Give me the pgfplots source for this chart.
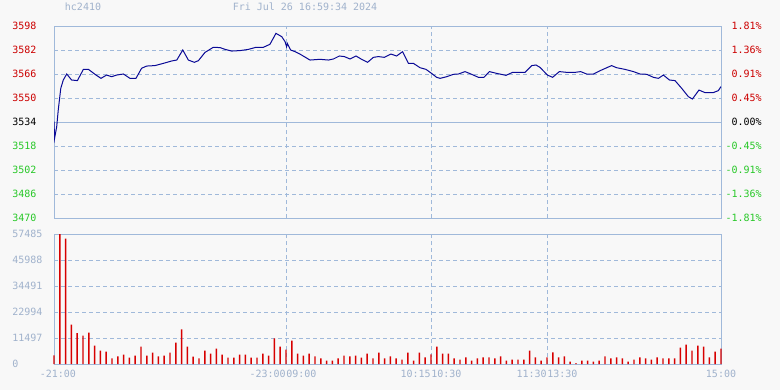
\documentclass[border=0pt]{standalone}
\usepackage{pgfplots}
\pgfplotsset{compat=1.18}
\usepackage{pgfplotstable}
\usepackage{fontspec}
\setmainfont{DejaVu Sans Mono}
\definecolor{bgc}{RGB}{248,248,248}
\definecolor{frame}{RGB}{160,185,218}
\definecolor{pline}{RGB}{10,10,150}
\definecolor{barred}{RGB}{215,0,0}
\definecolor{lblred}{RGB}{204,0,0}
\definecolor{lblgreen}{RGB}{40,200,40}
\definecolor{lblgray}{RGB}{160,178,204}

\pgfplotstableread{
t p
0.0 3534.2
0.3 3523.1
1.4 3530.9
2.2 3542
3.5 3556.4
4.8 3562
6.6 3566
9.1 3562
12.1 3561.6
15.2 3569.1
17.8 3569.1
21.2 3565.8
24.3 3563.1
27.2 3565.3
29.8 3564.2
32.4 3565.3
35.9 3566
39.3 3563.1
42.4 3563.1
45.3 3569.8
47.9 3571.3
52.2 3571.6
56.6 3573.1
60.9 3574.7
63.5 3575.3
66.6 3582
69.5 3575.3
72.6 3573.8
74.7 3574.9
78.1 3580.4
82.4 3583.8
85.9 3583.6
88.5 3582.4
91.9 3581.3
96.2 3581.6
100.5 3582.4
104.5 3583.8
108.3 3583.8
111.7 3585.8
114.8 3593.1
117.8 3590.9
119.5 3587.6
120.3 3584.2
120.7 3586.4
122.4 3582
124.7 3580.9
127.2 3579.3
132.4 3575.3
137.6 3575.8
141.9 3575.3
144.5 3576
147.6 3578
150.2 3577.6
153.1 3576
156.2 3578
159.1 3575.8
162.2 3573.8
165.2 3577.1
167.8 3577.6
170.9 3577.1
174.3 3579.3
177.2 3578
180.3 3580.9
183.3 3573.1
185.9 3573.1
189.3 3570.2
192.4 3569.1
195.3 3566.4
197.9 3563.8
199.7 3563.1
203.1 3564.2
206.6 3565.8
209.2 3566
212.6 3567.6
216.0 3565.8
219.5 3563.8
222.4 3563.8
225.2 3567.6
229.0 3566.4
233.8 3565.1
237.2 3567.1
243.6 3567.1
247.1 3571.6
249.3 3572
251.4 3570.4
255.2 3565.3
257.9 3563.8
261.4 3567.6
265.2 3567.1
269.5 3567.1
272.4 3567.6
275.5 3566
279.0 3566
283.3 3568.7
288.4 3571.6
291.0 3570.2
295.3 3569.1
299.7 3567.6
303.1 3566
306.6 3565.8
310.0 3563.8
312.6 3563.1
315.2 3565.3
318.3 3562
321.2 3561.6
324.7 3556.4
328.1 3550.9
330.2 3549.3
333.6 3555.3
336.7 3553.6
341.0 3553.6
343.6 3554.9
345.0 3557.6
}\pricedata

\pgfplotstableread{
t v
0 3830
3 57485
6 55400
9 17400
12 13700
15 12500
18 13850
21 8100
24 5900
27 5450
30 2500
33 3400
36 4100
39 2800
42 3700
45 7650
48 3700
51 5000
54 3400
57 3700
60 5000
63 9400
66 15300
69 7650
72 3250
75 2500
78 5900
81 4570
84 6780
87 4100
90 2800
93 2800
96 4100
99 4100
102 2800
105 2800
108 4570
111 3700
114 11350
117 7650
120 6340
123 10300
126 4570
129 3685
132 4570
135 3390
138 2506
141 1474
144 1474
147 2506
150 3685
153 3390
156 3685
159 2800
162 4570
165 2506
168 5012
171 2506
174 3390
177 2506
180 1916
183 5012
186 1474
189 5012
192 2948
195 4275
198 7665
201 4570
204 4570
207 2506
210 1916
213 2948
216 1474
219 2506
222 2948
225 2948
228 2506
231 3390
234 1474
237 1916
240 1916
243 1916
246 5896
249 2948
252 1474
255 2948
258 5159
261 2948
264 3390
267 1032
270 442
273 1474
276 1474
279 1032
282 1474
285 3390
288 2506
291 2948
294 2506
297 1032
300 1916
303 2948
306 2506
309 1916
312 2948
315 2506
318 2506
321 2506
324 7223
327 8549
330 5896
333 8107
336 7665
339 2948
342 5454
345 6780
}\voldata

\pgfplotsset{
  chartbase/.style={
    scale only axis, anchor=south west,
    width=500.25pt, xmin=0, xmax=345,
    major tick length=0pt,
    scaled y ticks=false, scaled x ticks=false,
    axis line style={frame, line width=0.75pt},
    grid style={frame, line width=0.75pt, dash pattern=on 3pt off 2.25pt},
    tick label style={font=\fontsize{7.5}{8}\selectfont},
    /pgf/number format/assume math mode=true,
  }
}

\begin{document}
\begin{tikzpicture}[x=1pt,y=1pt]
\fill[bgc] (0,0) rectangle (585,292.5);
\node[lblgray, font=\fontsize{7.5}{8}\selectfont, inner sep=0pt] at (62.25,287.25) {hc2410};
\node[lblgray, font=\fontsize{7.5}{8}\selectfont, inner sep=0pt] at (228.75,287.25) {Fri Jul 26 16:59:34 2024};

% price panel
\begin{axis}[chartbase,
  at={(40.5pt,129pt)}, height=144pt,
  ymin=3470, ymax=3598,
  xtick={120,195,255}, xticklabels={},
  ytick={3470,3486,3502,3518,3534,3550,3566,3582,3598},
  yticklabels={\textcolor{lblgreen}{3470},\textcolor{lblgreen}{3486},\textcolor{lblgreen}{3502},\textcolor{lblgreen}{3518},\textcolor{black}{3534},\textcolor{lblred}{3550},\textcolor{lblred}{3566},\textcolor{lblred}{3582},\textcolor{lblred}{3598}},
  yticklabel style={anchor=west, xshift=-31.5pt, inner sep=0pt},
  xmajorgrids, ymajorgrids,
  axis background/.style={fill=bgc},
]
\addplot[frame, line width=0.75pt, forget plot] coordinates {(0,3534) (345,3534)};
\addplot[pline, line width=0.75pt, mark=none] table[x=t,y=p] {\pricedata};
\end{axis}

% right percent labels
\begin{axis}[chartbase,
  at={(40.5pt,129pt)}, height=144pt,
  ymin=3470, ymax=3598,
  axis line style={draw=none},
  axis y line*=right, axis x line=none,
  ytick={3470,3486,3502,3518,3534,3550,3566,3582,3598},
  yticklabels={\textcolor{lblgreen}{-1.81\%},\textcolor{lblgreen}{-1.36\%},\textcolor{lblgreen}{-0.91\%},\textcolor{lblgreen}{-0.45\%},\textcolor{black}{0.00\%},\textcolor{lblred}{0.45\%},\textcolor{lblred}{0.91\%},\textcolor{lblred}{1.36\%},\textcolor{lblred}{1.81\%}},
  yticklabel style={anchor=east, xshift=30.75pt, inner sep=0pt},
]
\addplot[draw=none, forget plot] coordinates {(0,3534) (345,3534)};
\end{axis}

% volume panel
\begin{axis}[chartbase,
  at={(40.5pt,19.5pt)}, height=97.5pt,
  ymin=0, ymax=57485,
  xtick={120,195,255}, xticklabels={},
  ytick={0,11497,22994,34491,45988,57485},
  yticklabels={0,11497,22994,34491,45988,57485},
  yticklabel style={anchor=west, xshift=-31.5pt, inner sep=0pt, text=lblgray},
  xmajorgrids, ymajorgrids,
  axis background/.style={fill=bgc},
  clip=false,
]
\addplot[ybar, bar width=1.1pt, bar shift=0pt, fill=barred, draw=none, mark=none] table[x=t,y=v] {\voldata};
\begin{scope}[every node/.style={font=\fontsize{7.5}{8}\selectfont, text=lblgray, inner sep=0pt, yshift=-4pt}]
\node[anchor=north] at (axis cs:2,0) {-21:00};
\node[anchor=north east] at (axis cs:120,0) {-23:00};
\node[anchor=north west] at (axis cs:120,0) {09:00};
\node[anchor=north east] at (axis cs:195,0) {10:15};
\node[anchor=north west] at (axis cs:195,0) {10:30};
\node[anchor=north east] at (axis cs:255,0) {11:30};
\node[anchor=north west] at (axis cs:255,0) {13:30};
\node[anchor=north] at (axis cs:345,0) {15:00};
\end{scope}
\end{axis}
\end{tikzpicture}
\end{document}
